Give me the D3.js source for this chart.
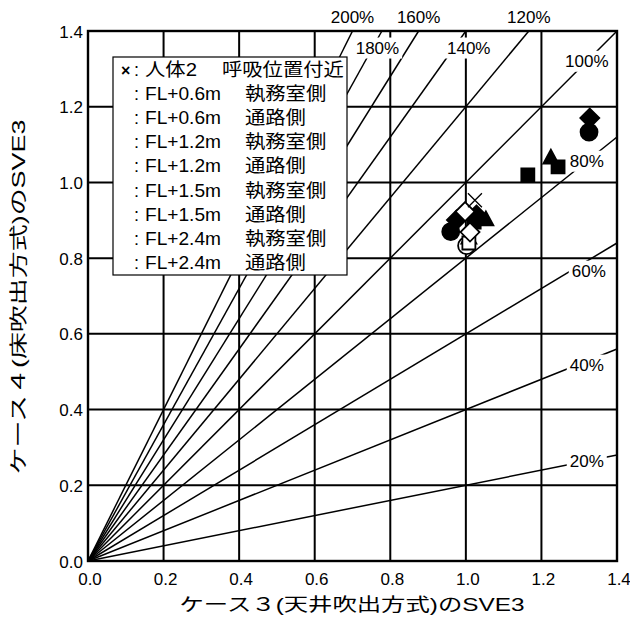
<!DOCTYPE html>
<html>
<head>
<meta charset="utf-8">
<script src="https://cdn.jsdelivr.net/npm/d3@7"></script>
<style>
body{margin:0;background:#fff;}
text{font-family:"Liberation Sans",Arial,"Noto Sans CJK JP",sans-serif;fill:#000;}
</style>
</head>
<body>
<div id="chart"></div>
<script>
// axis ticks
const xTicks = [0, 0.2, 0.4, 0.6, 0.8, 1.0, 1.2, 1.4];
const yTicks = [0, 0.2, 0.4, 0.6, 0.8, 1.0, 1.2, 1.4];
const xTickLabels = ["0.0", "0.2", "0.4", "0.6", "0.8", "1.0", "1.2", "1.4"];
const yTickLabels = ["0.0", "0.2", "0.4", "0.6", "0.8", "1.0", "1.2", "1.4"];

// ratio guide lines (y = k x)
const ratios = [0.2, 0.4, 0.6, 0.8, 1.0, 1.2, 1.4, 1.6, 1.8, 2.0];
const ratioLabels = ["20%", "40%", "60%", "80%", "100%", "120%", "140%", "160%", "180%", "200%"];

// legend rows
const legendMarks = ["×", "", "", "", "", "", "", "", ""];
const legendHeights = ["人体2", "FL+0.6m", "FL+0.6m", "FL+1.2m", "FL+1.2m", "FL+1.5m", "FL+1.5m", "FL+2.4m", "FL+2.4m"];
const legendPlaces = ["呼吸位置付近", "執務室側", "通路側", "執務室側", "通路側", "執務室側", "通路側", "執務室側", "通路側"];

// points per series: [case3 SVE3, case4 SVE3]
const pCross      = [[1.024, 0.953]];
const p06Office   = [[0.960, 0.870], [1.326, 1.133]];
const p06Aisle    = [[1.002, 0.833]];
const p12Office   = [[1.053, 0.901], [1.225, 1.064]];
const p12Aisle    = [[1.008, 0.853]];
const p15Office   = [[1.022, 0.895], [1.244, 1.041], [1.164, 1.020]];
const p15Aisle    = [[1.008, 0.840]];
const p24Office   = [[0.975, 0.901], [1.028, 0.914], [1.328, 1.170]];
const p24Aisle    = [[0.998, 0.923], [1.011, 0.869]];

const seriesList = [
    {pts: p06Office, shape: "circle", fill: true},
    {pts: p12Office, shape: "triangle", fill: true},
    {pts: p15Office, shape: "square", fill: true},
    {pts: p24Office, shape: "diamond", fill: true},
    {pts: p06Aisle, shape: "circle", fill: false},
    {pts: p12Aisle, shape: "triangle", fill: false},
    {pts: p15Aisle, shape: "square", fill: false},
    {pts: p24Aisle, shape: "diamond", fill: false},
    {pts: pCross, shape: "cross", fill: false}
];

const W = 630, H = 621;
const svg = d3.select("#chart").append("svg")
    .attr("width", W).attr("height", H);

const x = d3.scaleLinear().domain([0, 1.4]).range([88, 617]);
const y = d3.scaleLinear().domain([0, 1.4]).range([561, 31]);

// grid
const grid = svg.append("g");
grid.selectAll(".gx").data(xTicks.slice(1, -1)).enter().append("line")
    .attr("x1", d => x(d)).attr("x2", d => x(d))
    .attr("y1", y(0)).attr("y2", y(1.4))
    .attr("stroke", "#000").attr("stroke-width", 2);
grid.selectAll(".gy").data(yTicks.slice(1, -1)).enter().append("line")
    .attr("y1", d => y(d)).attr("y2", d => y(d))
    .attr("x1", x(0)).attr("x2", x(1.4))
    .attr("stroke", "#000").attr("stroke-width", 2);

// ratio lines
svg.append("g").selectAll("line").data(ratios).enter().append("line")
    .attr("x1", x(0)).attr("y1", y(0))
    .attr("x2", k => k <= 1 ? x(1.4) : x(1.4 / k))
    .attr("y2", k => k <= 1 ? y(1.4 * k) : y(1.4))
    .attr("stroke", "#000").attr("stroke-width", 1.5);

// ratio labels
const labelNudge = {0.4: [0, 4], 0.6: [2, 10], 1.4: [15, 0], 1.8: [5, 0]};
const rl = svg.append("g");
ratios.forEach((k, i) => {
    let cx, cy, inside = true;
    if (k <= 1) { cx = x(1.32); cy = y(1.32 * k); }
    else if (k === 1.4 || k === 1.8) { cx = x(1.355 / k); cy = y(1.355); }
    else { cx = x(1.4 / k); cy = y(1.4) - 14; inside = false; }
    const n = labelNudge[k] || [0, 0];
    cx += n[0]; cy += n[1];
    const t = rl.append("text")
        .attr("x", cx).attr("y", cy)
        .attr("text-anchor", "middle")
        .attr("dominant-baseline", "central")
        .attr("font-size", 17)
        .text(ratioLabels[i]);
    if (inside) {
        const b = t.node().getBBox();
        rl.insert("rect", "text:last-child")
            .attr("x", b.x - 3).attr("y", b.y - 1)
            .attr("width", b.width + 6).attr("height", b.height + 2)
            .attr("fill", "#fff");
    }
});

// frame
svg.append("rect")
    .attr("x", x(0)).attr("y", y(1.4))
    .attr("width", x(1.4) - x(0)).attr("height", y(0) - y(1.4))
    .attr("fill", "none").attr("stroke", "#000").attr("stroke-width", 2.4);

// tick labels
svg.append("g").selectAll("text").data(xTicks).enter().append("text")
    .attr("x", d => x(d) + 2).attr("y", 579)
    .attr("text-anchor", "middle").attr("dominant-baseline", "central")
    .attr("font-size", 17)
    .text((d, i) => xTickLabels[i]);
svg.append("g").selectAll("text").data(yTicks).enter().append("text")
    .attr("x", 83).attr("y", d => y(d) + 1)
    .attr("text-anchor", "end").attr("dominant-baseline", "central")
    .attr("font-size", 17)
    .text((d, i) => yTickLabels[i]);

// axis titles
svg.append("text")
    .attr("x", 352).attr("y", 605)
    .attr("text-anchor", "middle").attr("dominant-baseline", "central")
    .attr("font-size", 18)
    .attr("textLength", 345).attr("lengthAdjust", "spacingAndGlyphs")
    .text("ケース３(天井吹出方式)のSVE3");
svg.append("text")
    .attr("transform", "translate(19,297) rotate(-90)")
    .attr("text-anchor", "middle").attr("dominant-baseline", "central")
    .attr("font-size", 18)
    .attr("textLength", 355).attr("lengthAdjust", "spacingAndGlyphs")
    .text("ケース４(床吹出方式)のSVE3");

// legend
const lg = svg.append("g");
lg.append("rect")
    .attr("x", 113).attr("y", 57).attr("width", 234).attr("height", 218)
    .attr("fill", "#fff").attr("stroke", "#000").attr("stroke-width", 1.2);
legendHeights.forEach((h, i) => {
    const by = 76 + i * 24.1;
    if (legendMarks[i]) {
        lg.append("text").attr("x", 121).attr("y", by)
            .attr("font-size", 16).attr("font-weight", "bold").text(legendMarks[i]);
    }
    lg.append("text").attr("x", 134).attr("y", by).attr("font-size", 18).text(":");
    lg.append("text").attr("x", 145).attr("y", by).attr("font-size", 18)
        .attr("textLength", i === 0 ? 52 : 76).attr("lengthAdjust", "spacingAndGlyphs")
        .text(h);
    const place = legendPlaces[i];
    lg.append("text").attr("x", i === 0 ? 222 : 245).attr("y", by).attr("font-size", 18)
        .attr("textLength", place.length * 20.3).attr("lengthAdjust", "spacingAndGlyphs")
        .text(place);
});

// markers
function markerPath(shape) {
    const p = d3.path();
    if (shape === "circle") { p.arc(0, 0, 8.5, 0, 2 * Math.PI); }
    else if (shape === "square") { p.rect(-6.5, -6.5, 13, 13); }
    else if (shape === "triangle") { p.moveTo(0, -8.5); p.lineTo(7.5, 5.5); p.lineTo(-7.5, 5.5); p.closePath(); }
    else if (shape === "diamond") { p.moveTo(0, -9.5); p.lineTo(9.5, 0); p.lineTo(0, 9.5); p.lineTo(-9.5, 0); p.closePath(); }
    else if (shape === "cross") { p.moveTo(-7, -7); p.lineTo(7, 7); p.moveTo(7, -7); p.lineTo(-7, 7); }
    return p.toString();
}
const mk = svg.append("g");
seriesList.forEach(s => {
    mk.selectAll(null).data(s.pts).enter().append("path")
        .attr("transform", d => `translate(${x(d[0])},${y(d[1])})`)
        .attr("d", markerPath(s.shape))
        .attr("fill", s.shape === "cross" ? "none" : (s.fill ? "#000" : "#fff"))
        .attr("stroke", "#000")
        .attr("stroke-width", s.shape === "cross" ? 1.3 : 1.8);
});
</script>
</body>
</html>
